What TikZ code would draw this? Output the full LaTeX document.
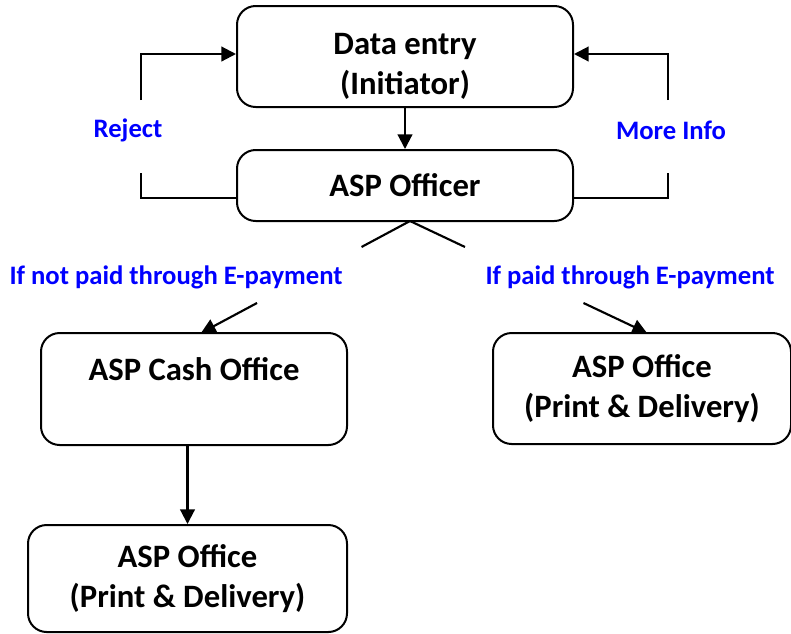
\documentclass[tikz,border=0pt]{standalone}
\usepackage{fontspec}
\setmainfont{Carlito}
\usepackage{tikz}
\usetikzlibrary{arrows.meta,calc}

\begin{document}
\begin{tikzpicture}[x=0.75pt, y=-0.75pt,
  box/.style={draw=black, line width=1.5pt, rounded corners=14pt, align=center,
    inner sep=0pt, font=\bfseries\fontsize{24.5}{30}\selectfont},
  choice/.style={text=blue, font=\bfseries\fontsize{20}{24}\selectfont},
  link/.style={line width=1.6pt},
  arr/.style={line width=1.6pt, -{Triangle[length=11pt,width=11pt]}}]

\useasboundingbox (0,0) rectangle (791,633);

% Initiator and officer
\path
(405,56.5) node[box, minimum width=252pt, minimum height=75.75pt, text height=60pt] (entry) {Data entry\\(Initiator)}
(405,185.5) node[box, minimum width=252pt, minimum height=53.25pt] (officer) {ASP Officer};

\draw[arr] (entry.south) -- (officer.north);

% Reject loop
\coordinate (rejbot) at (141,198);
\coordinate (rejtop) at (141,54);
\path (128,130) node[choice] (reject) {Reject};
\draw[link] (officer.west |- rejbot) -- (rejbot) -- (141,173);
\draw[arr] (141,100) -- (rejtop) -- (entry.west |- rejtop);

% More info loop
\coordinate (infobot) at (668,198);
\coordinate (infotop) at (668,54);
\path (671,130) node[choice] (moreinfo) {More Info};
\draw[link] (officer.east |- infobot) -- (infobot) -- (668,173);
\draw[arr] (668,100) -- (infotop) -- (entry.east |- infotop);

% Payment branches
\path
(194,389) node[box, minimum width=229.5pt, minimum height=84pt] (cash) {ASP Cash Office\\\mbox{}}
(642,388.5) node[box, minimum width=223.5pt, minimum height=83.25pt] (printR) {ASP Office\\(Print \& Delivery)}
(187.5,578.5) node[box, minimum width=239.25pt, minimum height=80.25pt] (printL) {ASP Office\\(Print \& Delivery)};

\path
(176,277) node[choice] (notpaid) {If not paid through E-payment}
(630,277) node[choice] (paid) {If paid through E-payment};

\coordinate (split) at (410,221);
\coordinate (cashin) at (201,333);
\coordinate (printin) at (647,333);

\draw[link] (split) -- ($(split)!0.232!(cashin)$);
\draw[arr] ($(split)!0.732!(cashin)$) -- (cashin);
\draw[link] (split) -- ($(split)!0.232!(printin)$);
\draw[arr] ($(split)!0.732!(printin)$) -- (printin);

\draw[arr] (cash.south -| printL.north) -- (printL.north);

\end{tikzpicture}
\end{document}
